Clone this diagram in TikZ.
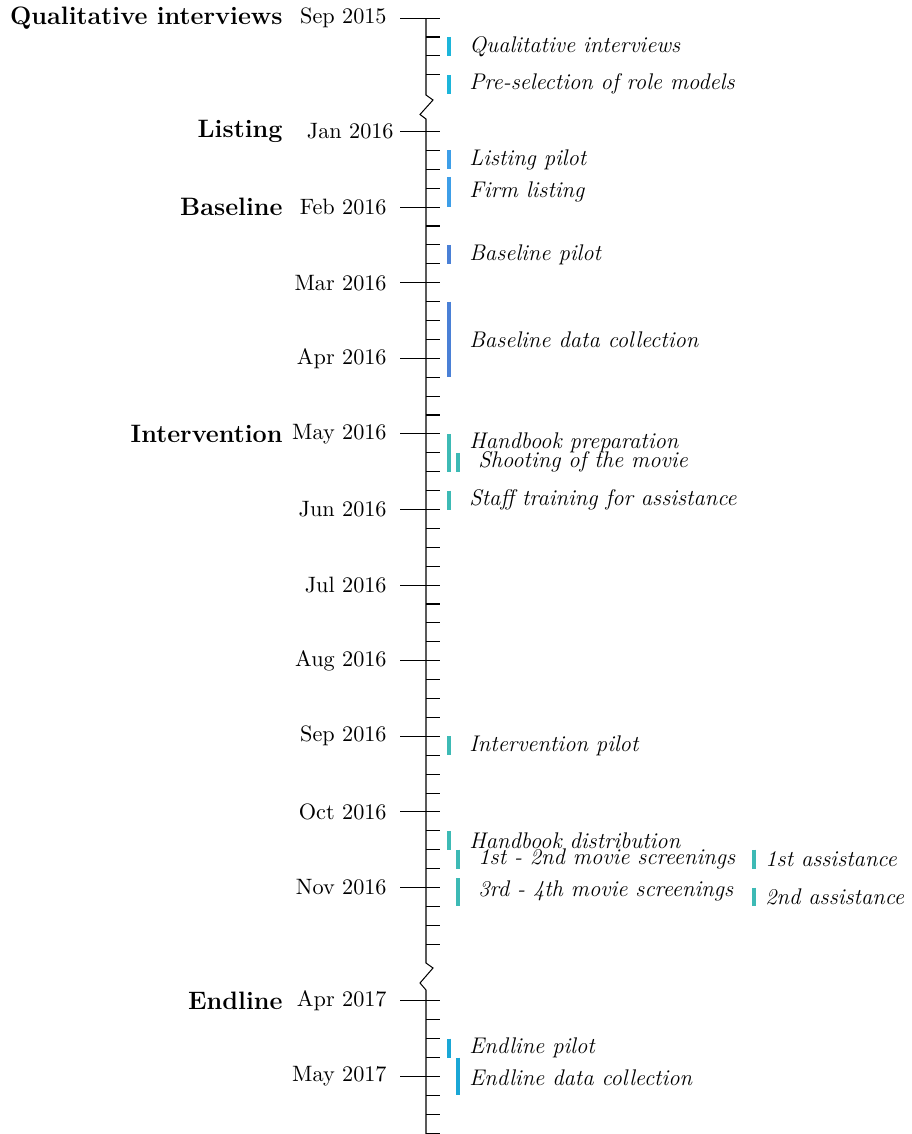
\documentclass[tikz,border=0pt]{standalone}
\definecolor{cqual}{RGB}{28,181,218}
\definecolor{clist}{RGB}{61,158,232}
\definecolor{cbase}{RGB}{74,128,214}
\definecolor{cint}{RGB}{61,186,181}
\definecolor{cend}{RGB}{26,167,214}
\newcommand{\wk}[1]{131.5+18.9*(#1)}
\begin{document}
\begin{tikzpicture}[x=0.4926pt,y=-0.4926pt,
  font=\fontsize{10.95}{13.6}\selectfont,
  phase/.style={anchor=east,inner sep=0pt,font=\fontsize{12.4}{15}\selectfont\bfseries},
  month/.style={anchor=east,inner sep=0pt},
  event/.style={anchor=west,inner sep=0pt,font=\fontsize{11.15}{13.8}\selectfont\itshape},
  bar/.style={line width=1.5pt},
  axisline/.style={line width=0.5pt}]
\useasboundingbox (0,0) rectangle (912,1134);
% axis with breaks
\draw[axisline] (426,{\wk{-6}}) -- (426,95) -- (433,100) -- (420,114.5) -- (426,119)
  -- (426,963) -- (433,968) -- (420,983) -- (426,990) -- (426,1134);
% minor ticks
\foreach \w in {-6,...,-3} \draw[axisline] (426,{\wk{\w}}) -- (440,{\wk{\w}});
\foreach \w in {0,...,43} \draw[axisline] (426,{\wk{\w}}) -- (440,{\wk{\w}});
\foreach \w in {46,...,53} \draw[axisline] (426,{\wk{\w}}) -- (440,{\wk{\w}});
% major ticks and month labels
\foreach \w/\lab/\nm in {-6/Sep 2015/m1,4/Feb 2016/m3,8/Mar 2016/m4,12/Apr 2016/m5,
  16/May 2016/m6,20/Jun 2016/m7,24/Jul 2016/m8,28/Aug 2016/m9,32/Sep 2016/m10,
  36/Oct 2016/m11,40/Nov 2016/m12,46/Apr 2017/m13,50/May 2017/m14}{
  \draw[axisline] (400,{\wk{\w}}) -- (440,{\wk{\w}});
  \node[month] (\nm) at (387,{\wk{\w}}) {\lab};
}
\draw[axisline] (400,{\wk{0}}) -- (440,{\wk{0}});
\node[month] (m2) at (394,{\wk{0}}) {Jan 2016};
% phase labels
\node[phase] (p1) at (283,{\wk{-6}}) {Qualitative interviews};
\node[phase] (p2) at (283,{\wk{0}}) {Listing};
\node[phase] (p3) at (283,{\wk{4}}) {Baseline};
\node[phase] (p4) at (283,{\wk{16}}) {Intervention};
\node[phase] (p5) at (283,{\wk{46}}) {Endline};
% events
\draw[bar,cqual] (449,{\wk{-5}}) -- (449,{\wk{-4}});
\node[event] (e1) at (469,{\wk{-4.5}}) {Qualitative interviews};
\draw[bar,cqual] (449,{\wk{-3}}) -- (449,{\wk{-2}});
\node[event] (e2) at (469,{\wk{-2.5}}) {Pre-selection of role models};
\draw[bar,clist] (449,{\wk{1}}) -- (449,{\wk{2}});
\node[event] (e3) at (469,{\wk{1.5}}) {Listing pilot};
\draw[bar,clist] (449,{\wk{2.4}}) -- (449,{\wk{4}});
\node[event] (e4) at (469,{\wk{3.2}}) {Firm listing};
\draw[bar,cbase] (449,{\wk{6}}) -- (449,{\wk{7}});
\node[event] (e5) at (469,{\wk{6.5}}) {Baseline pilot};
\draw[bar,cbase] (449,{\wk{9}}) -- (449,{\wk{13}});
\node[event] (e6) at (469,{\wk{11}}) {Baseline data collection};
\draw[bar,cint] (449,{\wk{16}}) -- (449,{\wk{18}});
\node[event] (e7) at (469,442.5) {Handbook preparation};
\draw[bar,cint] (458,{\wk{17}}) -- (458,{\wk{18}});
\node[event] (e8) at (478,{\wk{17.5}}) {Shooting of the movie};
\draw[bar,cint] (449,{\wk{19}}) -- (449,{\wk{20}});
\node[event] (e9) at (469,{\wk{19.5}}) {Staff training for assistance};
\draw[bar,cint] (449,{\wk{32}}) -- (449,{\wk{33}});
\node[event] (e10) at (469,{\wk{32.5}}) {Intervention pilot};
\draw[bar,cint] (449,{\wk{37}}) -- (449,{\wk{38}});
\node[event] (e11) at (469,{\wk{37.5}}) {Handbook distribution};
\draw[bar,cint] (458,{\wk{38}}) -- (458,{\wk{39}});
\node[event] (e12) at (478,{\wk{38.5}}) {1st - 2nd movie screenings};
\draw[bar,cint] (754,{\wk{38}}) -- (754,{\wk{39}});
\node[event] (e13) at (765,{\wk{38.5}}) {1st assistance};
\draw[bar,cint] (458,{\wk{39.5}}) -- (458,{\wk{41}});
\node[event] (e14) at (478,890.5) {3rd - 4th movie screenings};
\draw[bar,cint] (754,{\wk{40}}) -- (754,{\wk{41}});
\node[event] (e15) at (765,{\wk{40.5}}) {2nd assistance};
\draw[bar,cend] (449,{\wk{48}}) -- (449,{\wk{49}});
\node[event] (e16) at (469,{\wk{48.5}}) {Endline pilot};
\draw[bar,cend] (458,{\wk{49}}) -- (458,{\wk{51}});
\node[event] (e17) at (469,1078) {Endline data collection};
\end{tikzpicture}
\end{document}
